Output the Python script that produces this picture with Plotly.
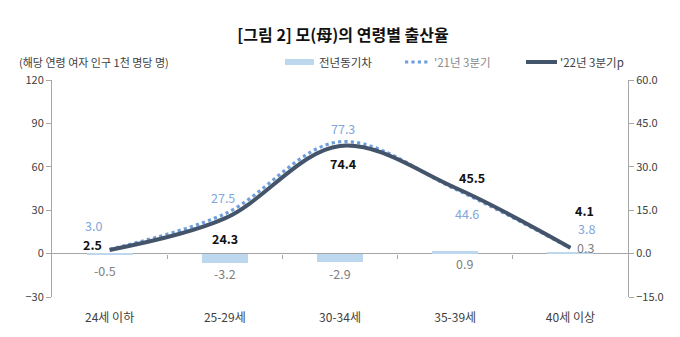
import plotly.graph_objects as go

# Age groups and birth rates (births per 1,000 women in each age group)
categories = ["24세 이하", "25-29세", "30-34세", "35-39세", "40세 이상"]
rate_2021_q3 = [3.0, 27.5, 77.3, 44.6, 3.8]
rate_2022_q3 = [2.5, 24.3, 74.4, 45.5, 4.1]
yoy_change = [-0.5, -3.2, -2.9, 0.9, 0.3]

left_ticks = [-30, 0, 30, 60, 90, 120]
right_ticks = [-15, 0, 15, 30, 45, 60]

FONT = "Noto Sans CJK KR"
BAR_COLOR = "#bdd7ee"
DOT_COLOR = "#6f9fdb"
LINE_COLOR = "#44546a"
LABEL_BLUE = "#7ea6dc"
AXIS_GREY = "#a6a6a6"
TEXT_DARK = "#404040"

# plot area in pixels (used for the hand-drawn legend keys)
L, R, T, B = 52, 628, 80, 297


def px_x(px):
    return (px - L) / (R - L)


def px_y(py):
    return (B - py) / (B - T)


fig = go.Figure()

fig.add_trace(go.Bar(
    x=categories, y=yoy_change, yaxis="y2", width=0.4,
    marker=dict(color=BAR_COLOR, line=dict(width=0)),
    showlegend=False, hoverinfo="skip",
))
fig.add_trace(go.Scatter(
    x=categories, y=rate_2021_q3, mode="lines",
    line=dict(color=DOT_COLOR, width=3.2, dash="dot", shape="spline", smoothing=1),
    showlegend=False, hoverinfo="skip",
))
fig.add_trace(go.Scatter(
    x=categories, y=rate_2022_q3, mode="lines",
    line=dict(color=LINE_COLOR, width=4, shape="spline", smoothing=1),
    showlegend=False, hoverinfo="skip",
))
# helper trace so the tick-mark axis at zero gets drawn
fig.add_trace(go.Scatter(x=[None], y=[None], xaxis="x2", yaxis="y",
                         showlegend=False, hoverinfo="skip"))

annotations = []
# pixel offsets of each value label from its point
off_22 = [(-17, 5), (0, -20), (3, -18), (17, 10), (14, 37)]
off_21 = [(-16, 24), (-2, 16), (3, 13), (12, -24), (16, 20)]
off_bar = [(-5, -15), (0, -11), (0, -12), (9, -12), (15, 5)]

for i, c in enumerate(categories):
    dx, dy = off_22[i]
    annotations.append(dict(
        x=c, y=rate_2022_q3[i], xref="x", yref="y", text=f"<b>{rate_2022_q3[i]:.1f}</b>",
        showarrow=False, xshift=dx, yshift=dy,
        font=dict(family=FONT, size=12.5, color="#111111"),
    ))
    dx, dy = off_21[i]
    annotations.append(dict(
        x=c, y=rate_2021_q3[i], xref="x", yref="y", text=f"{rate_2021_q3[i]:.1f}",
        showarrow=False, xshift=dx, yshift=dy,
        font=dict(family=FONT, size=12.5, color=LABEL_BLUE),
    ))
    dx, dy = off_bar[i]
    annotations.append(dict(
        x=c, y=yoy_change[i], xref="x", yref="y2", text=f"{yoy_change[i]:.1f}",
        showarrow=False, xshift=dx, yshift=dy,
        font=dict(family=FONT, size=12.5, color="#7f7f7f"),
    ))

# unit note
annotations.append(dict(
    x=px_x(17), y=px_y(62), xref="paper", yref="paper", xanchor="left", yanchor="middle",
    text="(해당 연령 여자 인구 1천 명당 명)", showarrow=False,
    font=dict(family=FONT, size=11, color=TEXT_DARK),
))

# legend entries
legend_items = [
    ("전년동기차", 317, TEXT_DARK),
    ("'21년 3분기", 432, "#8a8a8a"),
    ("'22년 3분기p", 558, TEXT_DARK),
]
for text, x0, col in legend_items:
    annotations.append(dict(
        x=px_x(x0), y=px_y(62), xref="paper", yref="paper", xanchor="left", yanchor="middle",
        text=text, showarrow=False, font=dict(family=FONT, size=11.5, color=col),
    ))

shapes = [
    dict(type="rect", xref="paper", yref="paper",
         x0=px_x(285), x1=px_x(314), y0=px_y(65), y1=px_y(59),
         fillcolor=BAR_COLOR, line=dict(width=0)),
    dict(type="line", xref="paper", yref="paper",
         x0=px_x(405), x1=px_x(430), y0=px_y(62), y1=px_y(62),
         line=dict(color=DOT_COLOR, width=3.2, dash="dot")),
    dict(type="line", xref="paper", yref="paper",
         x0=px_x(526), x1=px_x(557), y0=px_y(62), y1=px_y(62),
         line=dict(color=LINE_COLOR, width=4)),
]

fig.update_layout(
    width=680, height=337,
    margin=dict(l=L, r=680 - R, t=T, b=337 - B),
    paper_bgcolor="white", plot_bgcolor="white",
    font=dict(family=FONT, size=11, color=TEXT_DARK),
    title=dict(
        text="<b>[그림 2] 모(母)의 연령별 출산율</b>",
        x=343 / 680, y=1 - 35 / 337, xanchor="center", yanchor="middle",
        font=dict(family=FONT, size=16, color="#111111"),
    ),
    showlegend=False,
    bargap=0,
    xaxis=dict(
        type="category", categoryorder="array", categoryarray=categories,
        range=[-0.5, len(categories) - 0.5],
        showline=False, ticks="", showgrid=False, zeroline=False,
        tickfont=dict(family=FONT, size=12, color=TEXT_DARK),
        ticklabelstandoff=12,
    ),
    xaxis2=dict(
        overlaying="x", anchor="free", position=0.2,
        range=[-0.5, len(categories) - 0.5],
        tickvals=[i + 0.5 for i in range(len(categories) - 1)],
        ticks="outside", ticklen=4, tickcolor=AXIS_GREY,
        showticklabels=False, showline=False, showgrid=False, zeroline=False,
    ),
    yaxis=dict(
        range=[left_ticks[0], left_ticks[-1]], tickvals=left_ticks,
        showline=True, linecolor=AXIS_GREY, linewidth=1,
        ticks="outside", ticklen=5, tickcolor=AXIS_GREY,
        showgrid=False, zeroline=True, zerolinecolor=AXIS_GREY, zerolinewidth=1,
        tickfont=dict(family=FONT, size=11, color=TEXT_DARK),
    ),
    yaxis2=dict(
        overlaying="y", side="right",
        range=[right_ticks[0], right_ticks[-1]], tickvals=right_ticks, tickformat=".1f",
        showline=True, linecolor=AXIS_GREY, linewidth=1,
        ticks="outside", ticklen=5, tickcolor=AXIS_GREY,
        showgrid=False, zeroline=False,
        tickfont=dict(family=FONT, size=11, color=TEXT_DARK),
    ),
    annotations=annotations,
    shapes=shapes,
)

fig.write_html("out.html")
